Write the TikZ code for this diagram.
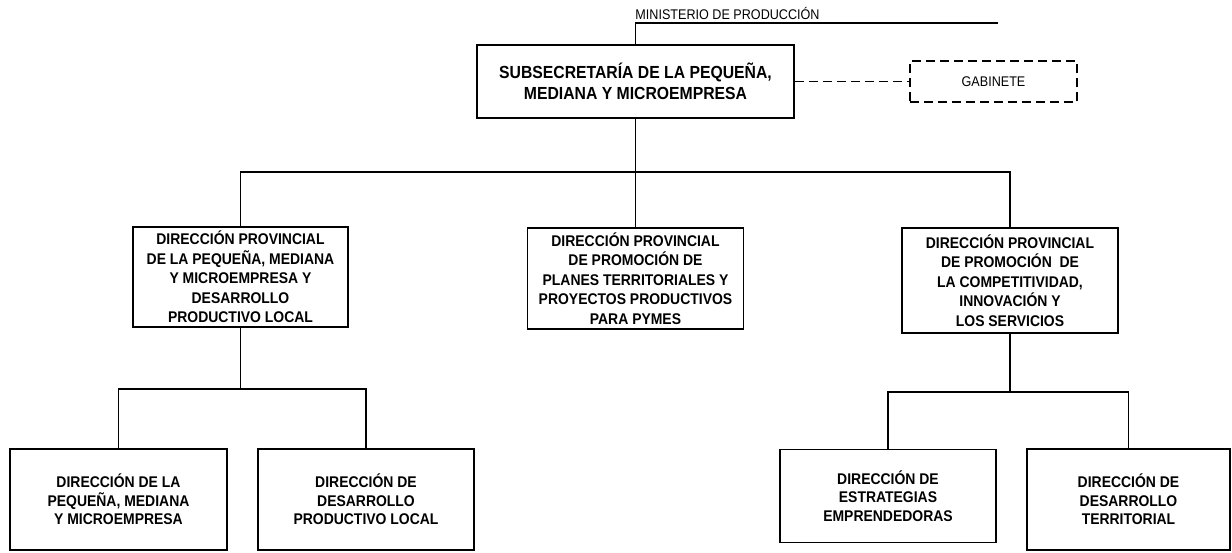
\documentclass[tikz,border=0pt]{standalone}
\usepackage{fontspec}
\setmainfont{Liberation Sans}
\newfontfamily\condfont[FakeStretch=0.9]{Liberation Sans}
\begin{document}
\begin{tikzpicture}[x=1pt,y=-1pt,
  unitbox/.style={draw, line width=1.7pt, align=center, inner sep=0pt, anchor=center,
    font=\condfont\bfseries\fontsize{15.5}{19.5}\selectfont},
  lowbox/.style={unitbox, font=\condfont\bfseries\fontsize{15.5}{18.5}\selectfont},
  topbox/.style={unitbox, font=\condfont\bfseries\fontsize{17.5}{21}\selectfont},
  dashbox/.style={draw, line width=1.7pt, dash pattern=on 9pt off 5pt, align=center,
    inner sep=0pt, font=\condfont\fontsize{14}{16}\selectfont},
  conn/.style={line width=1.3pt},
  dconn/.style={line width=1.6pt, dash pattern=on 9pt off 5pt}]
\useasboundingbox (0,0) rectangle (1232,552);

\node[font=\condfont\fontsize{14}{16}\selectfont, inner sep=0pt] (min) at (727.5,13) {MINISTERIO DE PRODUCCIÓN};
\coordinate (mR) at (998,23);

\node[topbox, minimum width=317pt, minimum height=73pt] (sub) at (635.5,81.5)
  {SUBSECRETARÍA DE LA PEQUEÑA,\\MEDIANA Y MICROEMPRESA};
\node[dashbox, minimum width=167pt, minimum height=41pt] (gab) at (993.5,81.5) {GABINETE};

\node[unitbox, minimum width=215pt, minimum height=100pt] (dp1) at (240.5,277)
  {DIRECCIÓN PROVINCIAL\\DE LA PEQUEÑA, MEDIANA\\Y MICROEMPRESA Y\\DESARROLLO\\PRODUCTIVO LOCAL};
\node[unitbox, minimum width=216pt, minimum height=101pt] (dp2) at (635.5,278.5)
  {DIRECCIÓN PROVINCIAL\\DE PROMOCIÓN DE\\PLANES TERRITORIALES Y\\PROYECTOS PRODUCTIVOS\\PARA PYMES};
\node[unitbox, minimum width=216pt, minimum height=105pt] (dp3) at (1010,280.5)
  {DIRECCIÓN PROVINCIAL\\DE PROMOCIÓN\ \ DE\\LA COMPETITIVIDAD,\\INNOVACIÓN Y\\LOS SERVICIOS};

\node[lowbox, minimum width=217pt, minimum height=101pt] (b1) at (118.5,499.5)
  {DIRECCIÓN DE LA\\PEQUEÑA, MEDIANA\\Y MICROEMPRESA};
\node[lowbox, minimum width=216pt, minimum height=101pt] (b2) at (366,499.5)
  {DIRECCIÓN DE\\DESARROLLO\\PRODUCTIVO LOCAL};
\node[lowbox, minimum width=216pt, minimum height=93pt] (b3) at (888,496)
  {DIRECCIÓN DE\\ESTRATEGIAS\\EMPRENDEDORAS};
\node[lowbox, line width=2.3pt, minimum width=203pt, minimum height=101pt] (b4) at (1128.5,499.5)
  {DIRECCIÓN DE\\DESARROLLO\\TERRITORIAL};

\coordinate (bus) at (635.5,172);
\coordinate (sbL) at (240.5,389);
\coordinate (sbR) at (1010,392);

% connectors
\draw[conn] (sub.north) |- (mR);
\draw[dconn] (sub.east) -- (gab.west);
\draw[conn] (sub.south) -- (dp2.north);
\draw[conn] (dp1.north) -- (dp1.north |- bus) -- (dp3.north |- bus) -- (dp3.north);
\draw[conn] (dp1.south) -- (sbL);
\draw[conn] (b1.north) -- (b1.north |- sbL) -- (b2.north |- sbL) -- (b2.north);
\draw[conn] (dp3.south) -- (sbR);
\draw[conn] (b3.north) -- (b3.north |- sbR) -- (b4.north |- sbR) -- (b4.north);
\end{tikzpicture}
\end{document}
